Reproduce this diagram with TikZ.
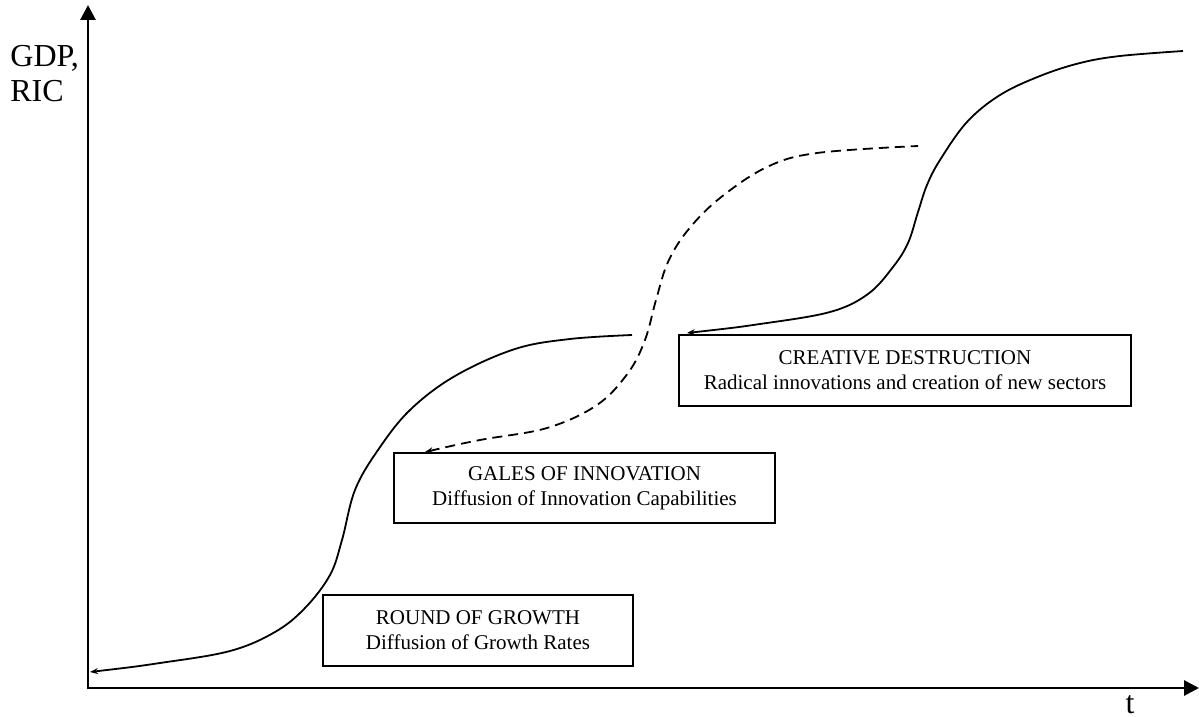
\documentclass[tikz,border=0pt]{standalone}
\usepackage{fontspec}
\setmainfont{Liberation Serif}
\usetikzlibrary{arrows.meta}
\begin{document}
\begin{tikzpicture}[x=0.5pt,y=-0.5pt,
  axis/.style={line width=1.4pt,-{Triangle[length=7.5pt,width=7.5pt]}},
  curve/.style={line width=0.9pt,{Stealth[length=4pt,width=3pt]}-},
  dcurve/.style={curve,dash pattern=on 5pt off 3pt},
  infobox/.style={draw,line width=0.9pt,align=center,inner sep=0pt,
    font=\fontsize{10.5}{12.5}\selectfont},
  biglabel/.style={font=\fontsize{16}{17}\selectfont,inner sep=0pt}]
\useasboundingbox (0,0) rectangle (1199,717);
% axes
\coordinate (origin) at (88,688);
\coordinate (ytop) at (88,5);
\coordinate (xend) at (1199,688);
\draw[axis] (88,689) -- (ytop);
\draw[axis] (87,688) -- (xend);
\node[biglabel,anchor=base west] (ylab1) at (10,67) {GDP,};
\node[biglabel,anchor=base west] (ylab2) at (10,102) {RIC};
\node[biglabel,anchor=base] (tlab) at (1130,713) {t};
% boxes
\node[infobox,minimum width=226pt,minimum height=35.5pt] (cd) at (905,370.5)
  {CREATIVE DESTRUCTION\\Radical innovations and creation of new sectors};
\node[infobox,minimum width=190.5pt,minimum height=35pt] (gi) at (584.5,488)
  {GALES OF INNOVATION\\Diffusion of Innovation Capabilities};
\node[infobox,minimum width=155pt,minimum height=35.5pt] (rg) at (478,630.5)
  {ROUND OF GROWTH\\Diffusion of Growth Rates};
% curves
\draw[curve] plot[smooth,tension=0.6] coordinates {(90,672) (160,663) (230,651) (275,632) (305,608) (330,575) (342,540) (355,490) (378,450) (410,410) (455,376) (515,349) (570,339) (632,335)};
\draw[dcurve] plot[smooth,tension=0.6] coordinates {(425,452) (480,440) (547,428) (597,405) (628,373) (645,340) (656,300) (668,262) (688,230) (720,198) (767,167) (817,153) (918,146)};
\draw[curve] plot[smooth,tension=0.6] coordinates {(687,333) (760,324) (830,312) (868,294) (893,267) (908,243) (918,212) (927,185) (940,160) (967,122) (1000,95) (1040,76) (1080,63) (1120,56) (1183,51)};
\end{tikzpicture}
\end{document}
